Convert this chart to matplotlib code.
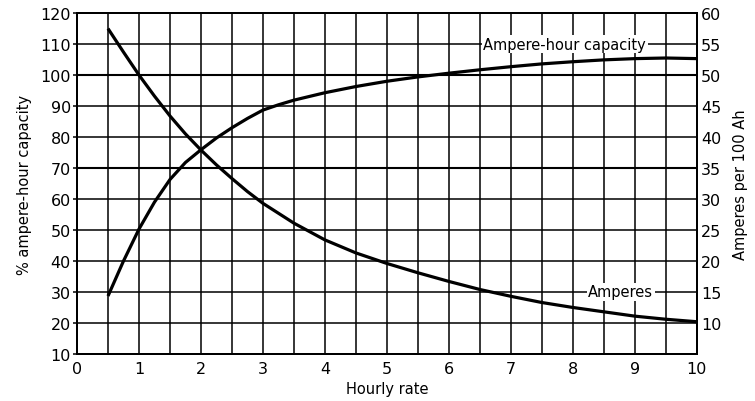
import matplotlib.pyplot as plt
import numpy as np

plt.rcParams['font.family'] = ['DejaVu Sans']

# hourly discharge rate (h) vs percent of rated ampere-hour capacity
rate_cap = [0.5, 0.75, 1.0, 1.25, 1.5, 1.75, 2.0, 2.25, 2.5, 2.75, 3.0, 3.25, 3.5,
            4.0, 4.5, 5.0, 5.5, 6.0, 6.5, 7.0, 7.5, 8.0, 8.5, 9.0, 9.5, 10.0]
capacity = [28.7, 40.0, 50.3, 59.0, 66.3, 71.8, 75.9, 79.7, 83.0, 86.0, 88.7, 90.4, 91.9,
            94.3, 96.3, 98.0, 99.4, 100.6, 101.7, 102.7, 103.6, 104.3, 104.9, 105.3, 105.5, 105.3]

# hourly discharge rate (h) vs current, amperes per 100 Ah
rate_amp = [0.5, 0.75, 1.0, 1.25, 1.5, 1.75, 2.0, 2.25, 2.5, 2.75, 3.0, 3.5,
            4.0, 4.5, 5.0, 5.5, 6.0, 6.5, 7.0, 7.5, 8.0, 8.5, 9.0, 9.5, 10.0]
amperes = [57.5, 53.7, 50.0, 46.6, 43.4, 40.5, 37.9, 35.5, 33.3, 31.2, 29.3, 26.1,
           23.4, 21.3, 19.6, 18.1, 16.7, 15.4, 14.3, 13.3, 12.5, 11.8, 11.1, 10.6, 10.2]

fig = plt.figure(figsize=(7.55, 4.02), dpi=100)
ax = fig.add_axes([0.102, 0.117, 0.821, 0.848])
ax2 = ax.twinx()

ax.set_xlim(0, 10)
ax.set_ylim(10, 120)
ax2.set_ylim(5, 60)

# grid: every half hour, every 10 %
for xv in np.arange(0.5, 10, 0.5):
    ax.axvline(xv, color='black', lw=1.1, zorder=1)
for yv in range(20, 120, 10):
    ax.axhline(yv, color='black', lw=1.5 if yv in (70, 100) else 1.1, zorder=1)

ax.plot(rate_cap, capacity, color='black', lw=2.3, solid_joinstyle='round',
        solid_capstyle='butt', zorder=3)
ax2.plot(rate_amp, amperes, color='black', lw=2.3, solid_joinstyle='round',
         solid_capstyle='butt', zorder=3)

ax.text(7.87, 110, 'Ampere-hour capacity', ha='center', va='center', fontsize=10.5,
        bbox=dict(facecolor='white', edgecolor='none', pad=1.0), zorder=4)
ax2.text(8.77, 15, 'Amperes', ha='center', va='center', fontsize=10.5,
         bbox=dict(facecolor='white', edgecolor='none', pad=1.0), zorder=4)

ax.set_xticks(range(0, 11))
ax.set_yticks(range(10, 121, 10))
ax2.set_yticks(range(10, 61, 5))

ax.tick_params(axis='x', length=0, labelsize=11.5, pad=5)
ax.tick_params(axis='y', length=3, width=1.1, labelsize=11.5, pad=1.5)
ax2.tick_params(axis='y', length=0, labelsize=11.5, pad=3)

for a in (ax, ax2):
    for s in a.spines.values():
        s.set_linewidth(1.4)

ax.set_xlabel('Hourly rate', fontsize=10.5, labelpad=4)
ax.set_ylabel('% ampere-hour capacity', fontsize=10.5, labelpad=6)
ax2.set_ylabel('Amperes per 100 Ah', fontsize=10.5, labelpad=8)

fig.savefig('out.png', dpi=100)
